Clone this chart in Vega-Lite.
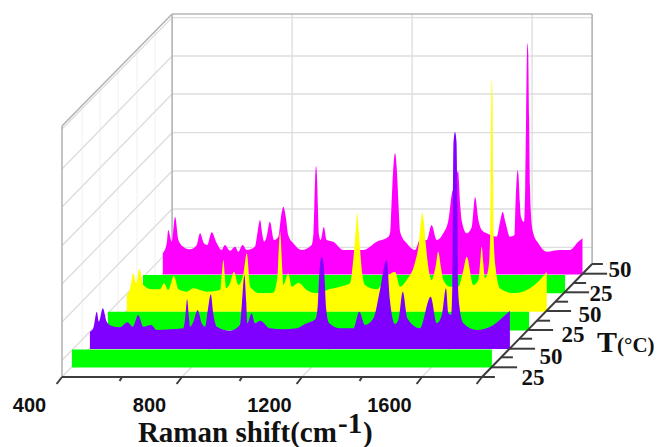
{
"$schema":"https://vega.github.io/schema/vega-lite/v6.json",
"width":658,"height":377,"autosize":"none","padding":{"left":0,"top":0,"right":0,"bottom":70},
"background":"white",
"config":{"view":{"stroke":null}},
"datasets":{
"wallGrid":[
{"line":"h1","shift":767,"level":359.4},{"line":"h1","shift":2167,"level":359.4},
{"line":"h2","shift":767,"level":321},{"line":"h2","shift":2167,"level":321},
{"line":"h3","shift":767,"level":283},{"line":"h3","shift":2167,"level":283},
{"line":"h4","shift":767,"level":244.3},{"line":"h4","shift":2167,"level":244.3},
{"line":"h5","shift":767,"level":206},{"line":"h5","shift":2167,"level":206},
{"line":"h6","shift":767,"level":168},{"line":"h6","shift":2167,"level":168},
{"line":"h7","shift":767,"level":129.7},{"line":"h7","shift":2167,"level":129.7},
{"line":"v1","shift":1167,"level":113},{"line":"v1","shift":1167,"level":363},
{"line":"v2","shift":1567,"level":113},{"line":"v2","shift":1567,"level":363},
{"line":"v3","shift":1967,"level":113},{"line":"v3","shift":1967,"level":363},
{"line":"s1","shift":400,"level":248},{"line":"s1","shift":767,"level":359.4},
{"line":"s2","shift":400,"level":208},{"line":"s2","shift":767,"level":321},
{"line":"s3","shift":400,"level":170},{"line":"s3","shift":767,"level":283},
{"line":"s4","shift":400,"level":131.3},{"line":"s4","shift":767,"level":244.3},
{"line":"s5","shift":400,"level":93},{"line":"s5","shift":767,"level":206},
{"line":"s6","shift":400,"level":55},{"line":"s6","shift":767,"level":168},
{"line":"s7","shift":400,"level":16.7},{"line":"s7","shift":767,"level":129.7},
{"line":"f1","shift":400,"level":0},{"line":"f1","shift":767,"level":113},
{"line":"f2","shift":800,"level":0},{"line":"f2","shift":1167,"level":113},
{"line":"f3","shift":1200,"level":0},{"line":"f3","shift":1567,"level":113},
{"line":"f4","shift":1600,"level":0},{"line":"f4","shift":1967,"level":113}
],
"faintGrid":[
{"line":"a","shift":467,"level":21},{"line":"a","shift":467,"level":271},
{"line":"b","shift":527,"level":39},{"line":"b","shift":527,"level":290},
{"line":"c","shift":587,"level":58},{"line":"c","shift":587,"level":308},
{"line":"d","shift":650,"level":77},{"line":"d","shift":650,"level":327},
{"line":"e","shift":710,"level":95},{"line":"e","shift":710,"level":346}
],
"frame":[
{"line":"top","shift":767,"level":363},{"line":"top","shift":2167,"level":363},
{"line":"left","shift":767,"level":113},{"line":"left","shift":767,"level":363},
{"line":"right","shift":2167,"level":113},{"line":"right","shift":2167,"level":363},
{"line":"front","shift":400,"level":0},{"line":"front","shift":400,"level":251},
{"line":"slant","shift":400,"level":251},{"line":"slant","shift":767,"level":363}
],
"axes":[
{"line":"x","shift":400,"level":0},{"line":"x","shift":1800,"level":0},
{"line":"z","shift":1800,"level":0},{"line":"z","shift":2167,"level":113},
{"line":"t400","shift":400,"level":0},{"line":"t400","shift":382,"level":-7},
{"line":"t600","shift":600,"level":0},{"line":"t600","shift":592,"level":-4},
{"line":"t800","shift":800,"level":0},{"line":"t800","shift":782,"level":-7},
{"line":"t1000","shift":1000,"level":0},{"line":"t1000","shift":992,"level":-4},
{"line":"t1200","shift":1200,"level":0},{"line":"t1200","shift":1182,"level":-7},
{"line":"t1400","shift":1400,"level":0},{"line":"t1400","shift":1392,"level":-4},
{"line":"t1600","shift":1600,"level":0},{"line":"t1600","shift":1582,"level":-7},
{"line":"t1800","shift":1800,"level":0},{"line":"t1800","shift":1782,"level":-7},
{"line":"d0","shift":1800,"level":0},{"line":"d0","shift":1843,"level":0},
{"line":"d1","shift":1832,"level":9.7},{"line":"d1","shift":1917,"level":9.7},
{"line":"d2","shift":1864,"level":19.7},{"line":"d2","shift":1903,"level":19.7},
{"line":"d3","shift":1892,"level":28.3},{"line":"d3","shift":1977,"level":28.3},
{"line":"d4","shift":1924,"level":38.3},{"line":"d4","shift":1967,"level":38.3},
{"line":"d5","shift":1953,"level":47},{"line":"d5","shift":2037,"level":47},
{"line":"d6","shift":1983,"level":56.3},{"line":"d6","shift":2027,"level":56.3},
{"line":"d7","shift":2014,"level":66},{"line":"d7","shift":2097,"level":66},
{"line":"d8","shift":2045,"level":75.3},{"line":"d8","shift":2087,"level":75.3},
{"line":"d9","shift":2075,"level":84.7},{"line":"d9","shift":2157,"level":84.7},
{"line":"d10","shift":2105,"level":94},{"line":"d10","shift":2147,"level":94},
{"line":"d11","shift":2135,"level":103.3},{"line":"d11","shift":2217,"level":103.3},
{"line":"d12","shift":2167,"level":113},{"line":"d12","shift":2203,"level":113}
],
"magenta":[
{"shift":736,"level":123.7},{"shift":749,"level":133.7},{"shift":754,"level":147},{"shift":766,"level":135.3},{"shift":777,"level":160.3},{"shift":788,"level":137},{"shift":804,"level":130.3},{"shift":827,"level":127.7},{"shift":849,"level":132},{"shift":860,"level":143.7},{"shift":873,"level":133.7},{"shift":884,"level":132},{"shift":899,"level":144.7},{"shift":916,"level":133.7},{"shift":932,"level":127},{"shift":943,"level":132},{"shift":960,"level":126.3},{"shift":977,"level":130.3},{"shift":988,"level":125.3},{"shift":1002,"level":132},{"shift":1016,"level":127},{"shift":1043,"level":130.3},{"shift":1052,"level":145},{"shift":1060,"level":157},{"shift":1068,"level":142},{"shift":1074,"level":135.3},{"shift":1082,"level":140.3},{"shift":1093,"level":155.3},{"shift":1107,"level":137},{"shift":1121,"level":140.3},{"shift":1130,"level":160},{"shift":1138,"level":170.3},{"shift":1146,"level":160},{"shift":1154,"level":142},{"shift":1171,"level":133.7},{"shift":1199,"level":127},{"shift":1232,"level":132},{"shift":1238,"level":143},{"shift":1241,"level":170},{"shift":1244,"level":200},{"shift":1247,"level":211},{"shift":1250,"level":200},{"shift":1253,"level":170},{"shift":1256,"level":143},{"shift":1262,"level":137},{"shift":1273,"level":150},{"shift":1282,"level":137},{"shift":1304,"level":135.3},{"shift":1338,"level":127},{"shift":1371,"level":127},{"shift":1404,"level":127},{"shift":1449,"level":135.3},{"shift":1488,"level":140.3},{"shift":1494,"level":145},{"shift":1498,"level":170},{"shift":1501,"level":190},{"shift":1505,"level":212},{"shift":1510,"level":224},{"shift":1515,"level":212},{"shift":1519,"level":190},{"shift":1522,"level":170},{"shift":1527,"level":145},{"shift":1549,"level":133.7},{"shift":1577,"level":127},{"shift":1593,"level":137},{"shift":1616,"level":137},{"shift":1632,"level":152},{"shift":1649,"level":137},{"shift":1671,"level":143.7},{"shift":1688,"level":157},{"shift":1700,"level":184},{"shift":1708,"level":190},{"shift":1720,"level":206},{"shift":1728,"level":170},{"shift":1732,"level":157},{"shift":1749,"level":143.7},{"shift":1766,"level":150},{"shift":1777,"level":180},{"shift":1788,"level":157},{"shift":1799,"level":147},{"shift":1816,"level":143.7},{"shift":1849,"level":140.3},{"shift":1860,"level":155},{"shift":1869,"level":165},{"shift":1878,"level":155},{"shift":1893,"level":140.3},{"shift":1908,"level":142},{"shift":1912,"level":175},{"shift":1916,"level":200},{"shift":1919,"level":207},{"shift":1922,"level":200},{"shift":1926,"level":175},{"shift":1930,"level":160},{"shift":1940,"level":155},{"shift":1944,"level":190},{"shift":1947,"level":260},{"shift":1950,"level":325},{"shift":1952,"level":334},{"shift":1954,"level":325},{"shift":1957,"level":260},{"shift":1960,"level":190},{"shift":1965,"level":155},{"shift":1971,"level":143.7},{"shift":1988,"level":133.7},{"shift":2016,"level":125.3},{"shift":2060,"level":127},{"shift":2093,"level":127},{"shift":2121,"level":135.3},{"shift":2135,"level":138.7}
],
"green3":[{"shift":670,"level":102},{"shift":1300,"level":102},{"shift":2077,"level":102}],
"yellow":[
{"shift":616,"level":82},{"shift":627,"level":88.7},{"shift":638,"level":103.7},{"shift":647,"level":93.7},{"shift":658,"level":108},{"shift":671,"level":92},{"shift":699,"level":87.7},{"shift":727,"level":87.7},{"shift":740,"level":93.7},{"shift":754,"level":87},{"shift":773,"level":101},{"shift":788,"level":87.7},{"shift":816,"level":85.3},{"shift":838,"level":88.7},{"shift":882,"level":85.3},{"shift":927,"level":87},{"shift":932,"level":100},{"shift":938,"level":117},{"shift":943,"level":100},{"shift":947,"level":88.7},{"shift":960,"level":93.7},{"shift":973,"level":105.3},{"shift":988,"level":92},{"shift":1004,"level":102},{"shift":1016,"level":123.7},{"shift":1027,"level":90.3},{"shift":1060,"level":83.7},{"shift":1104,"level":84.3},{"shift":1118,"level":100},{"shift":1122,"level":125},{"shift":1125,"level":140},{"shift":1127,"level":145.3},{"shift":1129,"level":140},{"shift":1133,"level":115},{"shift":1138,"level":92},{"shift":1154,"level":103.7},{"shift":1166,"level":90.3},{"shift":1188,"level":94.3},{"shift":1216,"level":87},{"shift":1249,"level":83.7},{"shift":1293,"level":88},{"shift":1327,"level":90.3},{"shift":1360,"level":93.7},{"shift":1370,"level":115},{"shift":1376,"level":135},{"shift":1380,"level":150},{"shift":1384,"level":164},{"shift":1388,"level":150},{"shift":1393,"level":130},{"shift":1400,"level":105},{"shift":1410,"level":92},{"shift":1449,"level":87.7},{"shift":1482,"level":100},{"shift":1510,"level":105.3},{"shift":1527,"level":90.3},{"shift":1549,"level":97},{"shift":1577,"level":115},{"shift":1590,"level":135},{"shift":1596,"level":155},{"shift":1601,"level":164},{"shift":1606,"level":155},{"shift":1612,"level":135},{"shift":1621,"level":110},{"shift":1632,"level":97},{"shift":1645,"level":110},{"shift":1654,"level":125.3},{"shift":1663,"level":110},{"shift":1671,"level":97},{"shift":1693,"level":90.3},{"shift":1721,"level":90.3},{"shift":1738,"level":107},{"shift":1749,"level":120.3},{"shift":1771,"level":92},{"shift":1788,"level":97},{"shift":1794,"level":115},{"shift":1799,"level":130.3},{"shift":1804,"level":115},{"shift":1810,"level":98.7},{"shift":1822,"level":110},{"shift":1827,"level":140},{"shift":1829,"level":200},{"shift":1831,"level":280},{"shift":1833,"level":299},{"shift":1835,"level":280},{"shift":1837,"level":200},{"shift":1839,"level":140},{"shift":1845,"level":110.3},{"shift":1860,"level":88.7},{"shift":1904,"level":83.7},{"shift":1949,"level":87},{"shift":1982,"level":93.7},{"shift":2016,"level":105.3}
],
"green2":[{"shift":553,"level":65.3},{"shift":1200,"level":65.3},{"shift":1957,"level":65.3}],
"violet":[
{"shift":493,"level":45.3},{"shift":504,"level":48.7},{"shift":516,"level":65.3},{"shift":523,"level":55.3},{"shift":536,"level":68.7},{"shift":549,"level":55.3},{"shift":566,"level":51},{"shift":593,"level":49.7},{"shift":618,"level":54.7},{"shift":636,"level":50.3},{"shift":654,"level":62},{"shift":671,"level":50.3},{"shift":697,"level":52},{"shift":716,"level":47},{"shift":760,"level":47.7},{"shift":804,"level":48.7},{"shift":811,"level":60},{"shift":817,"level":77.7},{"shift":823,"level":60},{"shift":827,"level":50.3},{"shift":838,"level":55.3},{"shift":852,"level":67},{"shift":866,"level":53.7},{"shift":877,"level":50.3},{"shift":886,"level":67},{"shift":896,"level":82.7},{"shift":904,"level":63.7},{"shift":916,"level":50.3},{"shift":960,"level":46.3},{"shift":993,"level":52},{"shift":1000,"level":75},{"shift":1008,"level":102},{"shift":1014,"level":75},{"shift":1018,"level":53.7},{"shift":1032,"level":63.7},{"shift":1043,"level":53.7},{"shift":1060,"level":56.3},{"shift":1093,"level":48.7},{"shift":1138,"level":47.7},{"shift":1182,"level":48.7},{"shift":1210,"level":53},{"shift":1245,"level":58},{"shift":1252,"level":70},{"shift":1257,"level":100},{"shift":1262,"level":117},{"shift":1266,"level":120},{"shift":1270,"level":117},{"shift":1275,"level":100},{"shift":1280,"level":70},{"shift":1290,"level":54},{"shift":1327,"level":48.7},{"shift":1371,"level":48.7},{"shift":1391,"level":65.3},{"shift":1410,"level":52},{"shift":1438,"level":58.7},{"shift":1460,"level":87},{"shift":1482,"level":117},{"shift":1493,"level":77},{"shift":1510,"level":53},{"shift":1521,"level":57},{"shift":1536,"level":85.3},{"shift":1551,"level":58.7},{"shift":1593,"level":48.7},{"shift":1629,"level":80.3},{"shift":1649,"level":53.7},{"shift":1666,"level":62},{"shift":1680,"level":88.7},{"shift":1688,"level":63.7},{"shift":1697,"level":62},{"shift":1701,"level":90},{"shift":1703,"level":170},{"shift":1705,"level":235},{"shift":1710,"level":245},{"shift":1715,"level":235},{"shift":1718,"level":170},{"shift":1720,"level":90},{"shift":1725,"level":70},{"shift":1738,"level":53.7},{"shift":1782,"level":47},{"shift":1838,"level":52},{"shift":1871,"level":60.3},{"shift":1893,"level":66.3}
],
"green1":[{"shift":433,"level":27.5},{"shift":1100,"level":27.5},{"shift":1833,"level":27.5}],
"depthLabels":[
{"label":"25","shift":1970,"level":-1},{"label":"50","shift":2030,"level":20},{"label":"25","shift":2103,"level":42},{"label":"50","shift":2160,"level":62},{"label":"25","shift":2197,"level":83},{"label":"50","shift":2260,"level":107}
]
},
"encoding":{
"x":{"field":"shift","type":"quantitative","scale":{"domain":[193.33,2386.67],"nice":false,"zero":false},
"axis":{"values":[400,800,1200,1600],"title":null,"grid":false,"domain":false,"ticks":false,"labelOffset":-33,"labelFontSize":20,"labelFontWeight":"bold","labelFont":"Liberation Sans","labelColor":"#111","labelPadding":18,"labelOverlap":false,"format":"d"}},
"y":{"field":"level","type":"quantitative","scale":{"domain":[0,377],"nice":false,"zero":false},"axis":null}
},
"layer":[
{"data":{"name":"faintGrid"},"mark":{"type":"line","stroke":"#f1f1f1","strokeWidth":1},"encoding":{"detail":{"field":"line"}}},
{"data":{"name":"wallGrid"},"mark":{"type":"line","stroke":"#dddddd","strokeWidth":1.3},"encoding":{"detail":{"field":"line"}}},
{"data":{"name":"frame"},"mark":{"type":"line","stroke":"#b4b4b4","strokeWidth":1.6},"encoding":{"detail":{"field":"line"}}},
{"data":{"name":"magenta"},"mark":{"type":"area","fill":"#ff00ff","interpolate":"monotone"},"encoding":{"y2":{"datum":102.5}}},
{"data":{"name":"green3"},"mark":{"type":"area","fill":"#00ff00"},"encoding":{"y2":{"datum":83.7}}},
{"data":{"name":"yellow"},"mark":{"type":"area","fill":"#ffff00","interpolate":"monotone"},"encoding":{"y2":{"datum":65.3}}},
{"data":{"name":"green2"},"mark":{"type":"area","fill":"#00ff00"},"encoding":{"y2":{"datum":46.5}}},
{"data":{"name":"violet"},"mark":{"type":"area","fill":"#7f00ff","interpolate":"monotone"},"encoding":{"y2":{"datum":28}}},
{"data":{"name":"green1"},"mark":{"type":"area","fill":"#00ff00"},"encoding":{"y2":{"datum":9.5}}},
{"data":{"name":"axes"},"mark":{"type":"line","stroke":"#3c3c3c","strokeWidth":2},"encoding":{"detail":{"field":"line"}}},
{"data":{"name":"depthLabels"},"mark":{"type":"text","font":"Liberation Serif","fontWeight":"bold","fontSize":23,"fill":"#111","align":"center","baseline":"middle"},"encoding":{"text":{"field":"label"}}},
{"data":{"values":[{"label":"T","shift":2183,"level":25}]},"mark":{"type":"text","font":"Liberation Serif","fontWeight":"bold","fontSize":30,"fill":"#111","align":"left","baseline":"alphabetic"},"encoding":{"text":{"field":"label"}}},
{"data":{"values":[{"label":"(°C)","shift":2250,"level":25}]},"mark":{"type":"text","font":"Liberation Serif","fontWeight":"bold","fontSize":21,"fill":"#111","align":"left","baseline":"alphabetic"},"encoding":{"text":{"field":"label"}}},
{"data":{"values":[{"label":"Raman shift(cm","shift":653,"level":-65},{"label":")","shift":1403,"level":-65}]},"mark":{"type":"text","font":"Liberation Serif","fontWeight":"bold","fontSize":29,"fill":"#111","align":"left","baseline":"alphabetic"},"encoding":{"text":{"field":"label"}}},
{"data":{"values":[{"label":"-1","shift":1320,"level":-56}]},"mark":{"type":"text","font":"Liberation Serif","fontWeight":"bold","fontSize":29,"fill":"#111","align":"left","baseline":"alphabetic"},"encoding":{"text":{"field":"label"}}}
]
}
